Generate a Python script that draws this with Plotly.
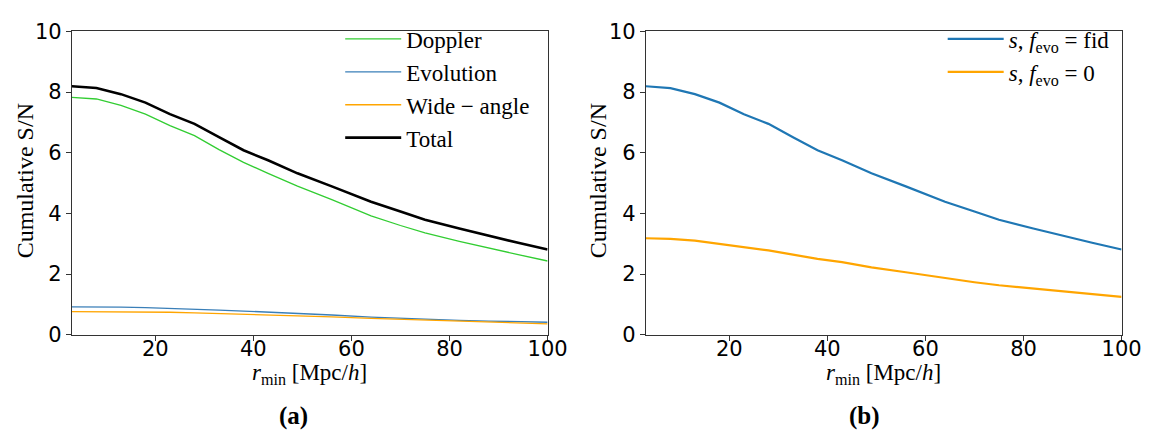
import plotly.graph_objects as go

# ---- data ----
r_min = [3, 8, 13, 18, 23, 28, 33, 38, 43, 49, 56, 64, 70, 75, 82, 88, 94, 100]
doppler = [7.82, 7.77, 7.56, 7.27, 6.89, 6.56, 6.10, 5.68, 5.32, 4.90, 4.45, 3.92, 3.60, 3.36, 3.08, 2.85, 2.64, 2.43]
evolution = [0.92, 0.92, 0.91, 0.89, 0.87, 0.84, 0.81, 0.78, 0.75, 0.71, 0.65, 0.58, 0.54, 0.51, 0.47, 0.45, 0.43, 0.41]
wide_angle = [0.76, 0.76, 0.76, 0.75, 0.74, 0.72, 0.70, 0.68, 0.66, 0.63, 0.59, 0.54, 0.51, 0.48, 0.44, 0.41, 0.38, 0.36]
total = [8.19, 8.13, 7.93, 7.65, 7.27, 6.95, 6.51, 6.08, 5.75, 5.32, 4.89, 4.38, 4.06, 3.79, 3.50, 3.26, 3.03, 2.81]
s_fid = total
s_zero = [3.18, 3.16, 3.10, 3.00, 2.88, 2.78, 2.64, 2.50, 2.39, 2.22, 2.06, 1.86, 1.73, 1.63, 1.52, 1.42, 1.33, 1.25]

x_ticks = [20, 40, 60, 80, 100]
y_ticks = [0, 2, 4, 6, 8, 10]

W, H = 1166, 437
SERIF = "Liberation Serif, DejaVu Serif, serif"
SANS = "DejaVu Sans, sans-serif"

fig = go.Figure()

left_series = [
    ("Doppler", doppler, "#32cd32", 1.3),
    ("Evolution", evolution, "#3a7fb8", 1.3),
    ("Wide \u2212 angle", wide_angle, "#ffa500", 1.3),
    ("Total", total, "#000000", 2.6),
]
for i, (name, ys, col, w) in enumerate(left_series):
    fig.add_trace(go.Scatter(x=r_min, y=ys, mode="lines", name=name,
                             line=dict(color=col, width=w),
                             xaxis="x", yaxis="y", legend="legend",
                             legendgroup=f"a{i}"))

right_series = [
    ("<i>s</i>, <i>f</i><sub>evo</sub> = fid", s_fid, "#1f77b4", 2.2),
    ("<i>s</i>, <i>f</i><sub>evo</sub> = 0", s_zero, "#ffa500", 2.2),
]
for i, (name, ys, col, w) in enumerate(right_series):
    fig.add_trace(go.Scatter(x=r_min, y=ys, mode="lines", name=name,
                             line=dict(color=col, width=w),
                             xaxis="x2", yaxis="y2", legend="legend2",
                             legendgroup=f"b{i}"))

def px_x(p):
    return p / W

def px_y(p):
    return 1 - p / H

ydom = [px_y(333), px_y(12)]
axis_common = dict(showline=True, linecolor="#333333", linewidth=1.1, mirror=True,
                   ticks="outside", ticklen=5, tickwidth=1.1, tickcolor="#333333",
                   showgrid=False, zeroline=False,
                   tickfont=dict(family=SANS, size=21, color="black"))

legend_common = dict(xanchor="left", yanchor="top",
                     bgcolor="rgba(0,0,0,0)", borderwidth=0,
                     font=dict(family=SERIF, size=23, color="black"),
                     traceorder="grouped", tracegroupgap=0, itemwidth=56)

fig.update_layout(
    width=W, height=H,
    margin=dict(l=0, r=0, t=0, b=0),
    paper_bgcolor="white", plot_bgcolor="white",
    xaxis=dict(domain=[px_x(65), px_x(549)], range=[3, 100], tickvals=x_ticks,
               anchor="y", ticklabelstandoff=-10, **axis_common),
    yaxis=dict(domain=ydom, range=[0, 10], tickvals=y_ticks, anchor="x", **axis_common),
    xaxis2=dict(domain=[px_x(649), px_x(1133)], range=[3, 100], tickvals=x_ticks,
                anchor="y2", ticklabelstandoff=-10, **axis_common),
    yaxis2=dict(domain=ydom, range=[0, 10], tickvals=y_ticks, anchor="x2", **axis_common),
    legend=dict(x=px_x(338), y=1.006, **legend_common),
    legend2=dict(x=px_x(951), y=1.006, **legend_common),
    showlegend=True,
)

annotations = []
xlabel = "<i>r</i><sub>min</sub> [Mpc/<i>h</i>]"
for cx in (307, 891):
    annotations.append(dict(x=px_x(cx), y=px_y(375), xref="paper", yref="paper",
                            xanchor="center", yanchor="middle",
                            text=xlabel, showarrow=False,
                            font=dict(family=SERIF, size=23, color="black")))
for cx in (17, 600):
    annotations.append(dict(x=px_x(cx), y=px_y(170), xref="paper", yref="paper",
                            xanchor="center", yanchor="middle",
                            text="Cumulative S/N", textangle=-90, showarrow=False,
                            font=dict(family=SERIF, size=24, color="black")))
for cx, lab in ((290, "(a)"), (871, "(b)")):
    annotations.append(dict(x=px_x(cx), y=px_y(419), xref="paper", yref="paper",
                            xanchor="center", yanchor="middle",
                            text=f"<b>{lab}</b>", showarrow=False,
                            font=dict(family=SERIF, size=25, color="black")))
fig.update_layout(annotations=annotations)

fig.write_html("out.html")
